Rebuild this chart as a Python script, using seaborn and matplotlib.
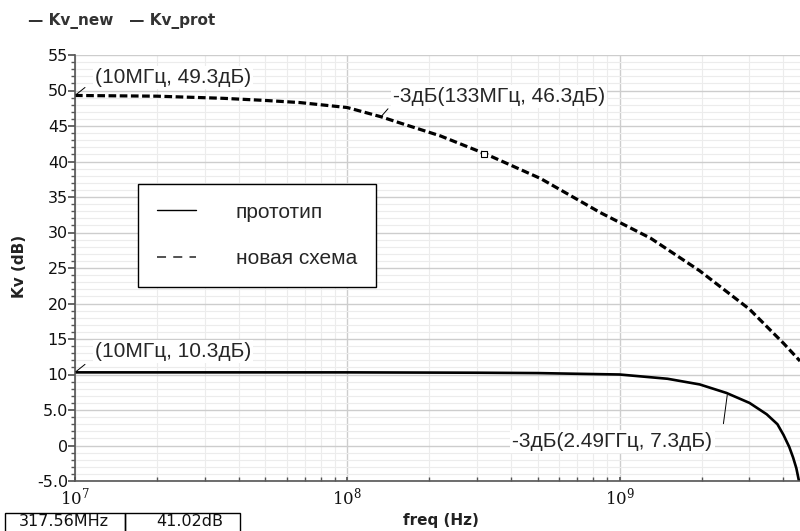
import seaborn as sns
import matplotlib.pyplot as plt
import pandas as pd
from matplotlib.ticker import FixedLocator, FixedFormatter, LogLocator, MultipleLocator, NullFormatter
from matplotlib.patches import Rectangle

# прототип (solid)
freq_prot = [1e7, 3e7, 1e8, 3e8, 5e8, 7e8, 1e9, 1.5e9, 1.97e9, 2.47e9, 3.0e9,
             3.47e9, 3.8e9, 4.0e9, 4.2e9, 4.34e9, 4.46e9, 4.56e9]
kv_prot = [10.3, 10.3, 10.3, 10.25, 10.2, 10.1, 10.0, 9.4, 8.6, 7.4, 6.0,
           4.4, 3.0, 1.5, -0.2, -1.7, -3.2, -5.0]

# новая схема (dashed)
freq_new = [1e7, 2e7, 3.5e7, 5e7, 6.7e7, 1e8, 1.33e8, 1.57e8, 2.2e8, 3.25e8,
            5.13e8, 8.5e8, 1.3e9, 1.97e9, 3.0e9, 4.0e9, 4.6e9]
kv_new = [49.3, 49.2, 48.9, 48.6, 48.3, 47.6, 46.3, 45.4, 43.6, 41.0,
          37.6, 32.8, 29.2, 24.6, 19.2, 14.4, 11.9]

x_max = 4.6e9
y_ticks = [-5, 0, 5, 10, 15, 20, 25, 30, 35, 40, 45, 50, 55]
y_labels = ['-5.0', '0', '5.0', '10', '15', '20', '25', '30', '35', '40', '45', '50', '55']
x_ticks = [1e7, 1e8, 1e9]
x_labels = ['$10^{7}$', '$10^{8}$', '$10^{9}$']

cursor_freq, cursor_kv = 317.56e6, 41.02

# (text, freq, kv, text dx, text dy, ha, leader dx, leader dy)
notes = [
    ('(10МГц, 49.3дБ)', 1e7, 49.3, 20, 18, 'left', 10, 8),
    ('-3дБ(133МГц, 46.3дБ)', 1.33e8, 46.3, 12, 20, 'left', 7, 8),
    ('(10МГц, 10.3дБ)', 1e7, 10.3, 20, 21, 'left', 10, 8),
    ('-3дБ(2.49ГГц, 7.3дБ)', 2.49e9, 7.3, -15, -48, 'right', -4, -30),
]

sns.set_theme(style='ticks')
plt.rcParams['font.family'] = ['DejaVu Sans']
plt.rcParams['mathtext.fontset'] = 'dejavuserif'

fig = plt.figure(figsize=(8, 5.31), dpi=100)
ax = fig.add_axes([75 / 800, 50 / 531, 725 / 800, 426 / 531])

prot = pd.DataFrame({'freq': freq_prot, 'Kv': kv_prot})
new = pd.DataFrame({'freq': freq_new, 'Kv': kv_new})
sns.lineplot(data=prot, x='freq', y='Kv', ax=ax, color='black', lw=1.9,
             label='прототип', sort=False, estimator=None)
sns.lineplot(data=new, x='freq', y='Kv', ax=ax, color='black', lw=2.3,
             linestyle=(0, (2.4, 1.1)), label='новая схема', sort=False, estimator=None)
ax.plot([cursor_freq], [cursor_kv], marker='s', ms=4, mfc='white', mec='black', mew=0.8)

ax.set_xscale('log')
ax.set_xlim(1e7, x_max)
ax.set_ylim(-5, 55)

ax.xaxis.set_major_locator(FixedLocator(x_ticks))
ax.xaxis.set_major_formatter(FixedFormatter(x_labels))
ax.xaxis.set_minor_locator(LogLocator(base=10, subs=range(2, 10), numticks=20))
ax.xaxis.set_minor_formatter(NullFormatter())
ax.yaxis.set_major_locator(FixedLocator(y_ticks))
ax.yaxis.set_major_formatter(FixedFormatter(y_labels))
ax.yaxis.set_minor_locator(MultipleLocator(1))

ax.set_axisbelow(True)
ax.grid(which='major', color='#cdcdcd', lw=1.0)
ax.grid(which='minor', color='#ececec', lw=0.8)

for s in ['top', 'right']:
    ax.spines[s].set_visible(False)
for s in ['left', 'bottom']:
    ax.spines[s].set_color('#555555')
    ax.spines[s].set_linewidth(1.2)

ax.tick_params(axis='x', which='both', direction='in', length=3, color='#555555',
               labelsize=12, pad=4, labelcolor='#111111')
ax.tick_params(axis='y', which='major', direction='out', length=5, color='#555555',
               labelsize=11.5, pad=0, labelcolor='#111111')
ax.tick_params(axis='y', which='minor', direction='out', length=3, color='#555555')
ax.set_xlabel('')
ax.set_ylabel('')

for txt, f, k, dx, dy, ha, lx, ly in notes:
    ax.annotate(txt, xy=(f, k), xytext=(dx, dy), textcoords='offset pixels',
                ha=ha, va='center', fontsize=15, family=['Liberation Sans', 'DejaVu Sans'],
                bbox=dict(boxstyle='square,pad=0.1', fc='white', ec='none'))
    # short leader tick next to the marked point
    ax.annotate('', xy=(f, k), xytext=(lx, ly), textcoords='offset pixels',
                arrowprops=dict(arrowstyle='-', lw=0.7, color='black', shrinkA=0, shrinkB=1))

leg = ax.legend(loc='upper left', bbox_to_anchor=(63 / 725, 297 / 426), borderaxespad=0,
                frameon=True, fancybox=False, edgecolor='black', framealpha=1,
                prop={'family': ['Liberation Sans', 'DejaVu Sans'], 'size': 15},
                handlelength=1.9, handletextpad=1.9, borderpad=0.9, labelspacing=1.3)
leg.get_frame().set_linewidth(1.0)
leg.legend_handles[0].set_linewidth(1.0)
leg.legend_handles[1].set_linewidth(1.3)
leg.legend_handles[1].set_linestyle((0, (5, 4)))
leg.legend_handles[1].set_color('#444444')

fig.text(28 / 800, 1 - 21 / 531, '— Kv_new   — Kv_prot', ha='left', va='center',
         fontsize=11, fontweight='bold', color='#333333')
fig.text(20 / 800, 1 - 266 / 531, 'Kv (dB)', rotation=90, ha='center', va='center',
         fontsize=11, fontweight='bold', color='#222222')
fig.text(441 / 800, 1 - 521 / 531, 'freq (Hz)', ha='center', va='center',
         fontsize=11, fontweight='bold', color='#222222')

# cursor readout boxes at bottom left
for x0, w in [(5, 120), (125, 115)]:
    fig.patches.append(Rectangle((x0 / 800, -0.01), w / 800, 18 / 531 + 0.01,
                                 transform=fig.transFigure, fill=False, ec='black', lw=1.0))
fig.text(64 / 800, 2 / 531, '317.56MHz', ha='center', va='bottom', fontsize=11.5, color='#111111')
fig.text(190 / 800, 2 / 531, '41.02dB', ha='center', va='bottom', fontsize=11.5, color='#111111')

fig.savefig('out.png', dpi=100)
